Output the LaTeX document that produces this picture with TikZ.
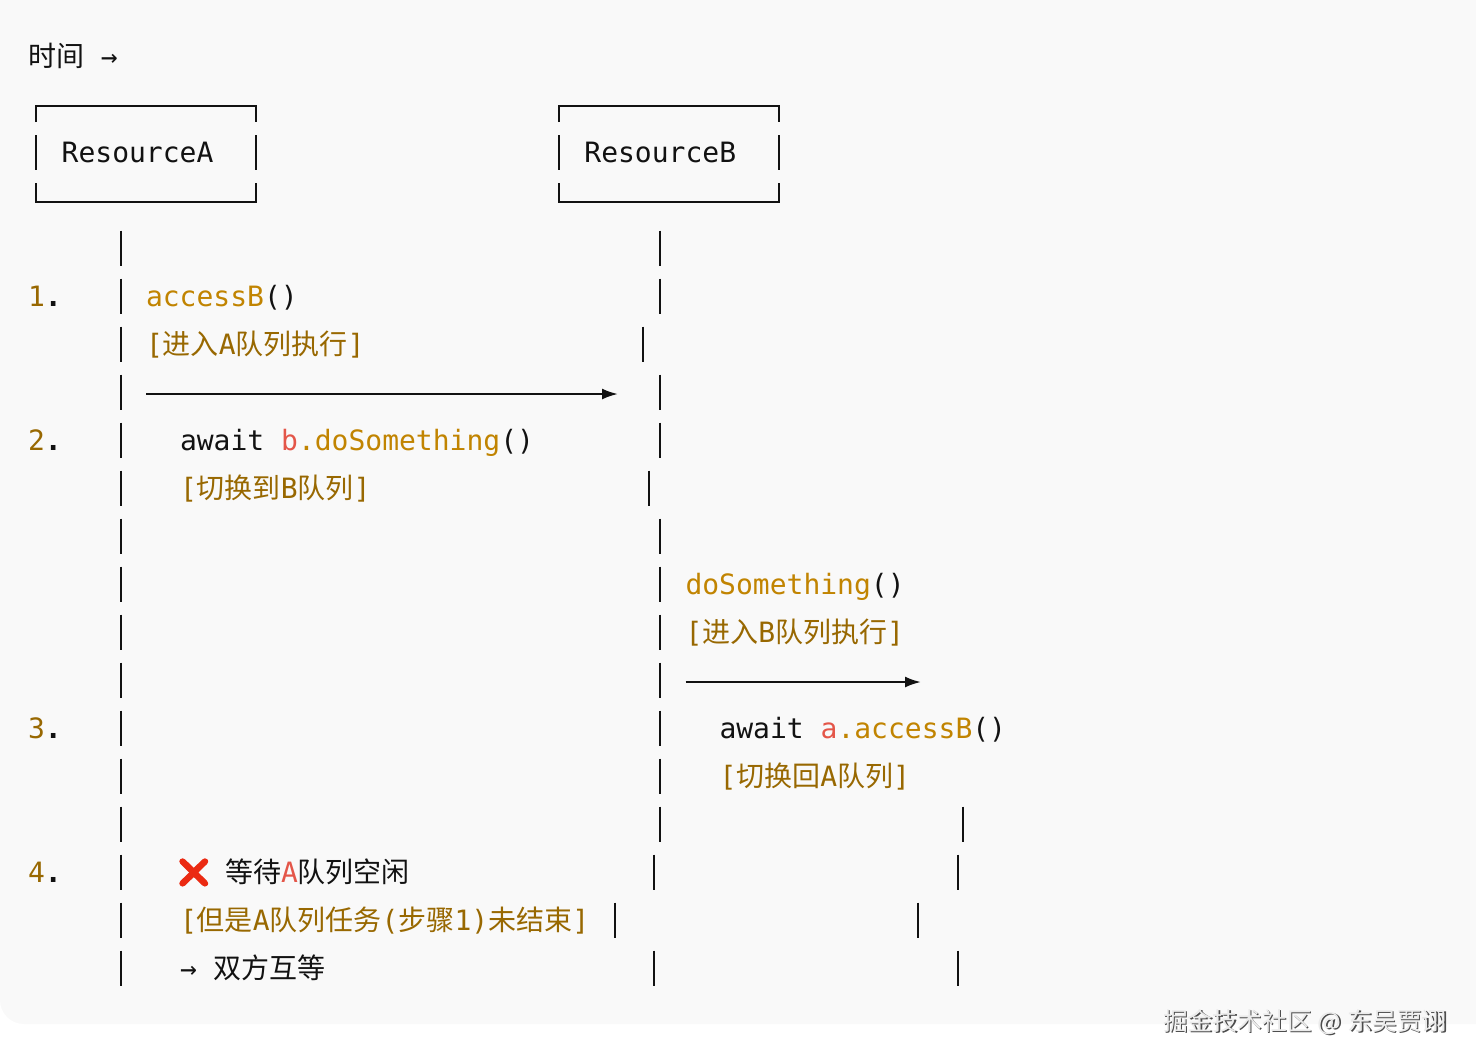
\documentclass[tikz,border=0pt]{standalone}
\usepackage{fontspec}
\usepackage{tikz}
\usetikzlibrary{arrows.meta}

\setmonofont{DejaVu Sans Mono}
\newfontfamily\cjk{Noto Sans CJK SC}
\newfontfamily\emojifont[FakeBold=4]{Noto Emoji}

\definecolor{pagegray}{HTML}{F9F9F9}
\definecolor{inkblack}{HTML}{121212}
\definecolor{callgold}{HTML}{C18401}
\definecolor{notebrown}{HTML}{986801}
\definecolor{varred}{HTML}{E45649}
\definecolor{crossred}{HTML}{EB2A12}

\newcommand{\callname}[1]{\textcolor{callgold}{#1}}
\newcommand{\varname}[1]{\textcolor{varred}{#1}}
\newcommand{\latn}[1]{{\ttfamily #1}}
\newcommand{\noteline}[1]{\textcolor{notebrown}{[{\cjk #1}]}}
\newcommand{\stepno}[1]{\textcolor{notebrown}{#1}\textbf{.}}

\tikzset{
	txt/.style={anchor=base west, inner sep=0, outer sep=0, text=inkblack, font=\ttfamily\fontsize{14}{14}\selectfont},
	lifebar/.style={line width=1.1pt, draw=inkblack},
	resframe/.style={line width=1.1pt, draw=inkblack},
	flow/.style={line width=1.1pt, draw=inkblack, -{Latex[length=8pt,width=5.5pt]}},
	wmark/.style={anchor=base west, inner sep=0, outer sep=0, font=\cjk\fontsize{12.4}{12.4}\selectfont}
}

\begin{document}
\begin{tikzpicture}[x=.5pt, y=-.5pt]
	\useasboundingbox (0, 0) rectangle (1476, 1062);
	\path[fill=pagegray] (1476, 0) -- (0, 0) [rounded corners=12pt] -- (0, 1024) [sharp corners] -- (1476, 1024) -- cycle;

	\node[txt] (timelabel) at (28, 66) {{\cjk 时间} →};

	% the two resources
	\foreach \x/\name in {36/A, 558.7/B} {
		\draw[resframe] (\x, 122) -- (\x, 106) -- ++(220, 0) -- ++(0, 16);
		\draw[resframe] (\x, 135) -- (\x, 170);
		\draw[resframe] (\x+220, 135) -- (\x+220, 170);
		\draw[resframe] (\x, 183) -- (\x, 202) -- ++(220, 0) -- ++(0, -19);
		\node[txt] (res\name) at (\x+25.7, 162) {Resource\name};
	}

	% life lines, one piece per text row
	\foreach \y in {248, 296, ..., 968} \draw[lifebar] (121, \y-17.5) -- ++(0, 35);
	\foreach \x/\y in {660/248, 660/296, 643/344, 660/392, 660/440, 649/488,
		660/536, 660/584, 660/632, 660/680, 660/728, 660/776, 660/824,
		654/872, 615/920, 654/968, 963/824, 958/872, 918/920, 958/968}
		\draw[lifebar] (\x, \y-17.5) -- ++(0, 35);

	\node[txt] (stepone) at (28, 306) {\stepno{1}};
	\node[txt] (steptwo) at (28, 450) {\stepno{2}};
	\node[txt] (stepthree) at (28, 738) {\stepno{3}};
	\node[txt] (stepfour) at (28, 882) {\stepno{4}};

	\node[txt] (callA) at (146, 306) {\callname{accessB}()};
	\node[txt] (noteA) at (146, 354) {\noteline{进入\latn{A}队列执行}};
	\coordinate (flowAstart) at (146, 394);
	\coordinate (flowAend) at (618, 394);
	\draw[flow] (flowAstart) -- (flowAend);
	\node[txt] (awaitB) at (180, 450) {await \varname{b}\callname{.doSomething}()};
	\node[txt] (noteswitchB) at (180, 498) {\noteline{切换到\latn{B}队列}};

	\node[txt] (callB) at (685.5, 594) {\callname{doSomething}()};
	\node[txt] (noteB) at (685.5, 642) {\noteline{进入\latn{B}队列执行}};
	\coordinate (flowBstart) at (685.5, 682);
	\coordinate (flowBend) at (921, 682);
	\draw[flow] (flowBstart) -- (flowBend);
	\node[txt] (awaitA) at (719.5, 738) {await \varname{a}\callname{.accessB}()};
	\node[txt] (noteswitchA) at (719.5, 786) {\noteline{切换回\latn{A}队列}};

	\node[txt, text=crossred] (cross) at (176, 882) {{\emojifont ❌}};
	\node[txt] (waitA) at (225, 882) {{\cjk 等待\varname{\latn{A}}队列空闲}};
	\node[txt] (notebusy) at (180, 930) {\textcolor{notebrown}{[{\cjk 但是\latn{A}队列任务}({\cjk 步骤}1){\cjk 未结束}]}};
	\node[txt] (deadlock) at (180, 978) {→ {\cjk 双方互等}};

	\node[wmark, text=black!70] (markshadow) at (1164.5, 1031) {掘金技术社区\hspace{.3pt} @\hspace{.3pt} 东吴贾诩};
	\node[wmark, text=white!92!black] (marktext) at (1163, 1030) {掘金技术社区\hspace{.3pt} @\hspace{.3pt} 东吴贾诩};
\end{tikzpicture}
\end{document}
